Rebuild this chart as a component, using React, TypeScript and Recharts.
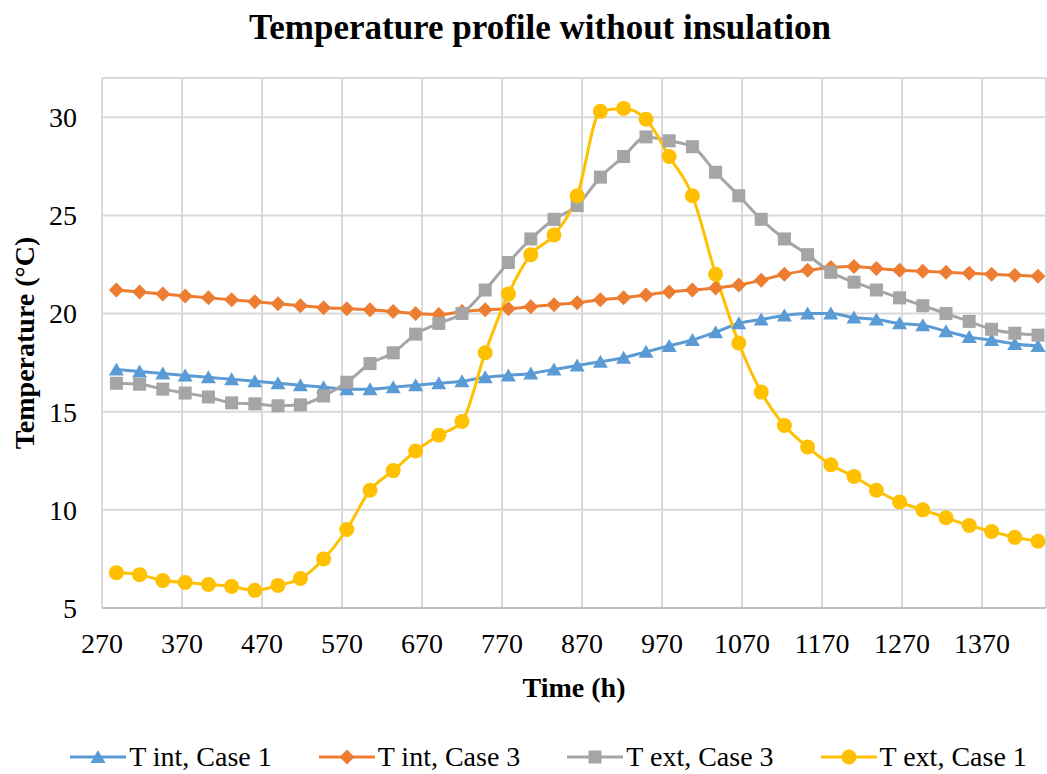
import React from "react";
import { LineChart, Line, XAxis, YAxis, CartesianGrid, Legend } from "recharts";

const FONT = '"Liberation Serif", "Times New Roman", serif';

// time (h) of each sample
const times = [
    288, 317, 346, 374, 403, 432, 461, 490, 518, 547, 576, 605, 634, 662, 691, 720, 749, 778, 806, 835, 864,
    893, 922, 950, 979, 1008, 1037, 1066, 1094, 1123, 1152, 1181, 1210, 1238, 1267, 1296, 1325, 1354, 1382,
    1411, 1440,
];

const tIntCase1 = [
    17.15, 17.05, 16.95, 16.85, 16.75, 16.65, 16.55, 16.45, 16.35, 16.25, 16.15, 16.15, 16.25, 16.35, 16.45,
    16.55, 16.75, 16.85, 16.95, 17.15, 17.35, 17.55, 17.75, 18.05, 18.35, 18.65, 19.05, 19.5, 19.7, 19.9, 20.0,
    20.0, 19.8, 19.7, 19.5, 19.4, 19.1, 18.8, 18.65, 18.45, 18.35,
];

const tIntCase3 = [
    21.2, 21.1, 21.0, 20.9, 20.8, 20.7, 20.6, 20.5, 20.4, 20.3, 20.25, 20.2, 20.1, 20.0, 19.95, 20.1, 20.2,
    20.25, 20.35, 20.45, 20.55, 20.7, 20.8, 20.95, 21.1, 21.2, 21.3, 21.45, 21.7, 22.0, 22.2, 22.35, 22.4, 22.3,
    22.2, 22.15, 22.1, 22.05, 22.0, 21.95, 21.9,
];

const tExtCase3 = [
    16.45, 16.4, 16.15, 15.95, 15.75, 15.45, 15.4, 15.3, 15.35, 15.8, 16.5, 17.45, 18.0, 18.95, 19.5, 20.0,
    21.2, 22.6, 23.8, 24.8, 25.5, 26.95, 28.0, 29.0, 28.8, 28.5, 27.2, 26.0, 24.8, 23.8, 23.0, 22.1, 21.6, 21.2,
    20.8, 20.4, 20.0, 19.6, 19.2, 19.0, 18.9,
];

const tExtCase1 = [
    6.8, 6.7, 6.4, 6.3, 6.2, 6.1, 5.9, 6.15, 6.5, 7.5, 9.0, 11.0, 12.0, 13.0, 13.8, 14.5, 18.0, 21.0, 23.0, 24.0,
    26.0, 30.3, 30.45, 29.9, 28.0, 26.0, 22.0, 18.5, 16.0, 14.3, 13.2, 12.3, 11.7, 11.0, 10.4, 10.0, 9.6, 9.2,
    8.9, 8.6, 8.4,
];

const xTicks = [270, 370, 470, 570, 670, 770, 870, 970, 1070, 1170, 1270, 1370];
const yTicks = [5, 10, 15, 20, 25, 30];

const rows = times.map((t, i) => ({
    t,
    a: tIntCase1[i],
    b: tIntCase3[i],
    c: tExtCase3[i],
    d: tExtCase1[i],
}));

type Shape = "triangle" | "diamond" | "square" | "circle";

const series: { key: string; name: string; color: string; shape: Shape }[] = [
    { key: "a", name: "T int, Case 1", color: "#5B9BD5", shape: "triangle" },
    { key: "b", name: "T int, Case 3", color: "#ED7D31", shape: "diamond" },
    { key: "c", name: "T ext, Case 3", color: "#A5A5A5", shape: "square" },
    { key: "d", name: "T ext, Case 1", color: "#FFC000", shape: "circle" },
];

function Marker({ cx, cy, shape, color }: { cx: number; cy: number; shape: Shape; color: string }) {
    if (cx == null || cy == null) return null;
    if (shape === "triangle") {
        return <polygon points={`${cx},${cy - 7} ${cx + 7.5},${cy + 6} ${cx - 7.5},${cy + 6}`} fill={color} />;
    }
    if (shape === "diamond") {
        return <polygon points={`${cx},${cy - 7.5} ${cx + 7.5},${cy} ${cx},${cy + 7.5} ${cx - 7.5},${cy}`} fill={color} />;
    }
    if (shape === "square") {
        return <rect x={cx - 6.5} y={cy - 6.5} width={13} height={13} fill={color} />;
    }
    return <circle cx={cx} cy={cy} r={7.5} fill={color} />;
}

const renderLegend = () => (
    <div
        style={{
            display: "flex",
            justifyContent: "center",
            alignItems: "center",
            height: 34,
            fontFamily: FONT,
            fontSize: 28,
            color: "#000",
            paddingLeft: 50,
        }}
    >
        {series.map((s, i) => (
            <div key={s.key} style={{ display: "flex", alignItems: "center", marginLeft: i === 0 ? 0 : 47 }}>
                <svg width={56} height={20} style={{ marginRight: 3 }}>
                    <line x1={0} y1={10} x2={56} y2={10} stroke={s.color} strokeWidth={3} />
                    <Marker cx={28} cy={10} shape={s.shape} color={s.color} />
                </svg>
                <span style={{ whiteSpace: "nowrap" }}>{s.name}</span>
            </div>
        ))}
    </div>
);

const XLabel = (props: any) => {
    const vb = props.viewBox || {};
    return (
        <text x={vb.x + vb.width / 2} y={697} textAnchor="middle" fontFamily={FONT} fontSize={28} fontWeight="bold" fill="#000">
            Time (h)
        </text>
    );
};

const YLabel = (props: any) => {
    const vb = props.viewBox || {};
    const cx = 34;
    const cy = vb.y + vb.height / 2;
    return (
        <text
            x={cx}
            y={cy}
            transform={`rotate(-90 ${cx} ${cy})`}
            textAnchor="middle"
            fontFamily={FONT}
            fontSize={28}
            fontWeight="bold"
            fill="#000"
        >
            Temperature (°C)
        </text>
    );
};

export default function App() {
    return (
        <div style={{ position: "absolute", left: 0, top: 0, width: 1047, height: 774, background: "#fff", overflow: "hidden" }}>
            <div
                style={{
                    position: "absolute",
                    left: 540,
                    top: 10,
                    transform: "translateX(-50%)",
                    whiteSpace: "nowrap",
                    fontFamily: FONT,
                    fontSize: 35,
                    lineHeight: 1,
                    fontWeight: "bold",
                    color: "#000",
                }}
            >
                Temperature profile without insulation
            </div>
            <LineChart width={1047} height={774} data={rows} margin={{ top: 78, right: 1, left: 0, bottom: 0 }}>
                <CartesianGrid stroke="#d9d9d9" strokeWidth={2} />
                <XAxis
                    dataKey="t"
                    type="number"
                    domain={[270, 1450]}
                    ticks={xTicks}
                    allowDataOverflow
                    height={132}
                    tickLine={false}
                    tickSize={0}
                    tickMargin={25}
                    axisLine={{ stroke: "#bfbfbf", strokeWidth: 2 }}
                    tick={{ fontFamily: FONT, fontSize: 28, fill: "#000" }}
                    label={<XLabel />}
                />
                <YAxis
                    type="number"
                    domain={[5, 32]}
                    ticks={yTicks}
                    allowDataOverflow
                    width={102}
                    tickLine={false}
                    tickSize={0}
                    tickMargin={25}
                    axisLine={{ stroke: "#d9d9d9", strokeWidth: 2 }}
                    tick={{ fontFamily: FONT, fontSize: 28, fill: "#000" }}
                    label={<YLabel />}
                />
                <Legend verticalAlign="bottom" content={renderLegend} wrapperStyle={{ left: 0, width: 1047, bottom: 0 }} />
                {series.map((s) => (
                    <Line
                        key={s.key}
                        dataKey={s.key}
                        name={s.name}
                        type="monotone"
                        stroke={s.color}
                        strokeWidth={3}
                        isAnimationActive={false}
                        dot={(p: any) => <Marker key={`${s.key}-${p.index}`} cx={p.cx} cy={p.cy} shape={s.shape} color={s.color} />}
                        activeDot={false}
                    />
                ))}
            </LineChart>
        </div>
    );
}
